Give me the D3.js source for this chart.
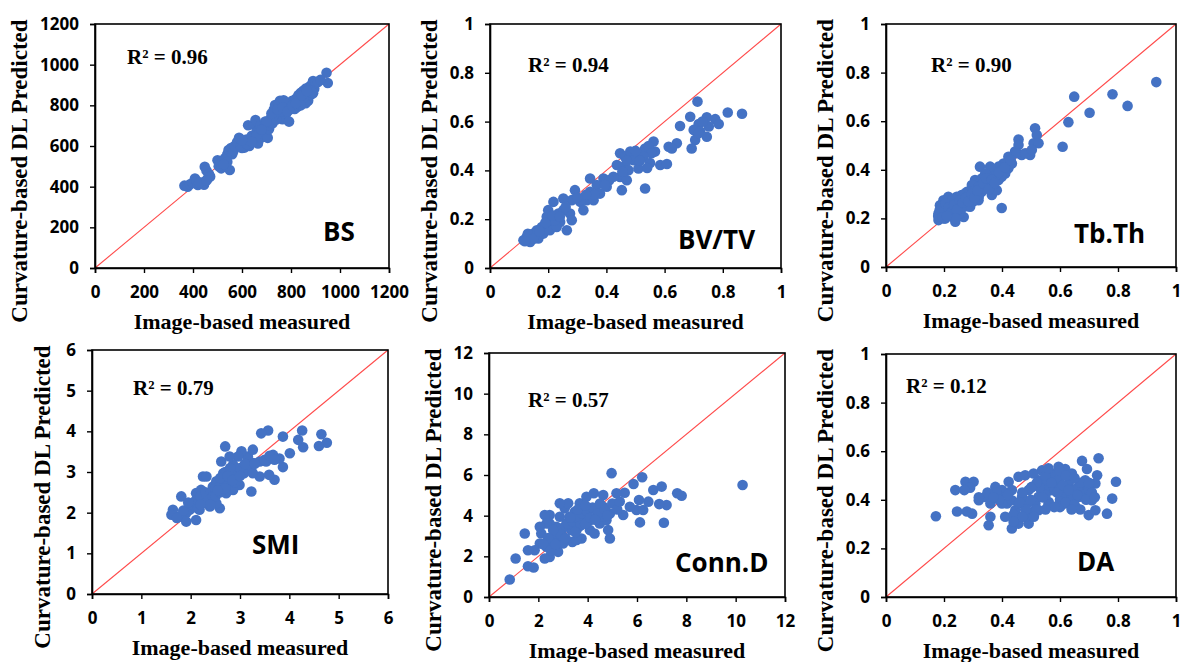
<!DOCTYPE html>
<html>
<head>
<meta charset="utf-8">
<script src="https://cdn.jsdelivr.net/npm/d3@7"></script>
<style>
  body { margin: 0; background: #fff; }
  svg { display: block; }
</style>
</head>
<body>
<svg id="chart" width="1181" height="662"></svg>
<script>
// Measured vs predicted values, one [measured, predicted] pair per specimen.
const bsPoints = [
  [365,405],[378,400],[388,412],[398,418],[408,440],[415,428],[420,408],[430,415],[440,422],[448,498],[455,480],[460,440],[465,462],[470,450],[445,410],[425,420],[455,430],
  [500,530],[505,500],[515,490],[520,525],[530,540],[540,560],[545,580],[550,482],[555,590],[560,560],[540,522],[525,510],[565,575],
  [570,600],[580,620],[588,640],[595,600],[600,612],[610,592],[618,632],[625,702],[630,600],[636,620],[640,650],[648,705],[650,640],[655,728],[660,670],[665,612],[670,682],[675,700],[680,642],[690,662],[695,720],[700,700],[705,640],[710,682],[715,702],[600,590],[620,610],[660,650],
  [720,742],[725,712],[730,780],[735,802],[740,762],[745,750],[750,790],[755,822],[760,800],[765,732],[770,810],[775,770],[780,760],[785,800],[792,720],[795,780],[800,790],[805,822],[810,800],[815,782],[740,730],[760,770],[730,750],[750,810],[770,825],
  [820,832],[825,792],[830,850],[835,822],[840,862],[845,812],[850,872],[855,842],[860,882],[865,832],[870,862],[875,892],[880,852],[885,902],[890,920],[895,882],[900,912],[870,822],[860,810],[880,872],[850,835],[840,800],[890,860],
  [945,960],[950,910],[910,915],[920,925],
  [700,720],[720,760],[745,780],[765,790],[785,770],[805,800],[820,810],[845,850],[865,870],[640,620],[680,680],[600,630]
];
const bvtvPoints = [
  [0.713,0.682],[0.817,0.637],[0.866,0.632],[0.688,0.620],[0.653,0.582],[0.717,0.590],[0.745,0.618],[0.774,0.610],[0.786,0.590],[0.752,0.580],[0.700,0.566],[0.722,0.559],[0.745,0.538],[0.705,0.525],[0.693,0.490],[0.717,0.552],[0.730,0.600],
  [0.614,0.497],[0.642,0.511],[0.625,0.490],
  [0.562,0.518],[0.533,0.490],[0.567,0.477],[0.585,0.422],[0.608,0.426],[0.545,0.500],[0.555,0.470],
  [0.533,0.326],
  [0.447,0.470],[0.464,0.456],[0.482,0.477],[0.505,0.470],[0.528,0.456],[0.493,0.442],[0.459,0.415],[0.476,0.401],[0.510,0.408],[0.550,0.430],[0.447,0.373],[0.424,0.374],[0.453,0.319],[0.470,0.360],[0.436,0.422],[0.515,0.440],[0.500,0.480],[0.470,0.440],[0.540,0.410],[0.455,0.395],
  [0.344,0.367],[0.390,0.367],[0.401,0.333],[0.367,0.340],[0.344,0.312],[0.333,0.278],[0.310,0.271],[0.292,0.319],[0.356,0.278],[0.378,0.305],[0.321,0.237],[0.281,0.278],[0.410,0.360],[0.360,0.300],[0.330,0.300],[0.300,0.290],[0.395,0.340],
  [0.218,0.271],[0.252,0.285],[0.235,0.223],[0.264,0.155],[0.195,0.210],[0.206,0.182],[0.241,0.189],[0.178,0.168],[0.161,0.155],[0.149,0.141],[0.126,0.127],[0.115,0.114],[0.138,0.107],[0.166,0.121],[0.183,0.141],[0.206,0.155],[0.229,0.168],[0.200,0.237],[0.275,0.223],[0.252,0.237],[0.281,0.196],[0.224,0.196],[0.130,0.140],[0.150,0.120],[0.190,0.185],[0.215,0.215],[0.260,0.250],[0.240,0.210],[0.170,0.150],[0.120,0.110]
];
const tbthPoints = [
  [0.932,0.761],[0.781,0.711],[0.833,0.663],[0.649,0.701],[0.702,0.635],[0.629,0.596],[0.609,0.495],[0.399,0.243],
  [0.457,0.525],[0.457,0.502],[0.514,0.571],[0.520,0.543],[0.509,0.509],[0.526,0.509],[0.497,0.461],[0.468,0.461],[0.445,0.475],[0.422,0.454],[0.405,0.426],[0.388,0.413],[0.371,0.392],[0.359,0.413],[0.324,0.413],[0.342,0.385],[0.307,0.358],[0.296,0.337],[0.324,0.330],[0.353,0.330],[0.388,0.358],[0.411,0.385],
  [0.279,0.309],[0.261,0.296],[0.244,0.289],[0.227,0.275],[0.209,0.261],[0.192,0.241],[0.181,0.220],[0.181,0.193],[0.204,0.200],[0.227,0.213],[0.239,0.186],[0.268,0.206],[0.290,0.248],[0.250,0.248],[0.319,0.275],[0.365,0.296],[0.382,0.316],[0.215,0.289],[0.198,0.275],[0.296,0.275],[0.273,0.275],[0.186,0.254],[0.204,0.227],[0.256,0.220],
  [0.330,0.364],[0.347,0.344],[0.371,0.358],[0.399,0.399],[0.422,0.406],[0.434,0.426],[0.451,0.468],[0.480,0.468],[0.503,0.482],[0.399,0.371],
  [0.190,0.220],[0.200,0.245],[0.210,0.230],[0.220,0.260],[0.230,0.240],[0.240,0.270],[0.250,0.260],[0.260,0.280],[0.270,0.300],[0.280,0.290],[0.300,0.310],[0.310,0.300],[0.320,0.330],[0.340,0.330],[0.350,0.350],[0.360,0.340],[0.370,0.370],[0.380,0.380],[0.200,0.200],[0.220,0.210],[0.250,0.220],[0.280,0.250],[0.300,0.270],[0.330,0.310],[0.180,0.210],[0.190,0.250],[0.230,0.280],[0.260,0.240],[0.290,0.280],[0.320,0.290],
  [0.185,0.235],[0.195,0.205],[0.205,0.260],[0.215,0.245],[0.225,0.225],[0.235,0.255],[0.245,0.235],[0.255,0.275],[0.265,0.265],[0.275,0.285],[0.285,0.270],[0.295,0.300],[0.305,0.285],[0.315,0.315],[0.335,0.345],[0.345,0.365],[0.355,0.320],[0.365,0.360],[0.375,0.345],[0.390,0.390],[0.410,0.410],[0.430,0.440],[0.240,0.200],[0.210,0.210]
];
const smiPoints = [
  [4.76,3.72],[4.65,3.93],[4.60,3.64],[4.28,3.61],[4.26,4.02],[4.18,3.79],[4.01,3.46],[3.87,3.87],[3.57,4.02],[3.43,3.95],[3.87,3.12],[3.70,2.81],[3.40,2.89],[3.59,2.93],[3.80,3.33],[3.67,3.42],[3.53,3.26],[3.40,3.26],[3.26,3.22],[3.16,3.38],[3.26,3.55],[3.03,3.51],[3.20,3.05],[3.23,2.52],[2.96,3.38],[2.86,3.18],[2.79,3.05],[2.70,3.63],[2.62,3.26],[2.66,2.97],[2.89,2.89],[2.99,2.68],[2.79,2.73],[2.72,2.48],[2.59,2.64],[2.49,2.48],[2.25,2.89],[2.32,2.89],[2.45,2.32],[2.59,2.11],[2.32,2.23],[2.18,2.32],[2.11,2.48],[2.21,2.56],[2.05,2.23],[1.98,2.07],[1.81,2.40],[1.91,1.99],[1.78,1.91],[1.64,2.07],[1.61,1.95],[1.72,1.87],[1.91,1.78],[2.11,1.82],[2.18,2.07],[2.39,2.15],[2.52,2.23],[2.45,2.64],[2.86,2.56],[3.08,2.97],[3.26,2.97],[2.79,3.38],[2.52,2.77],[2.28,2.36],
  [2.00,2.20],[2.10,2.30],[2.20,2.40],[2.30,2.50],[2.40,2.50],[2.50,2.60],[2.60,2.70],[2.70,2.80],[2.80,2.90],[2.90,3.00],[3.00,3.10],[2.70,3.00],[2.60,2.85],[2.80,3.10],[2.90,2.75],[3.10,3.20],[3.30,3.20],[3.50,3.30],[3.60,3.40],[3.70,3.30],[2.35,2.30],[2.45,2.40],[2.15,2.10],[1.85,2.05],[1.95,2.25],
  [2.50,2.40],[2.60,2.50],[2.70,2.60],[2.75,2.90],[2.85,2.80],[3.00,2.90],[2.55,2.55],[2.40,2.20],[2.20,2.20]
];
const connPoints = [
  [10.28,5.51],[4.97,6.09],[6.21,5.89],[5.86,5.56],[6.66,5.26],[7.00,5.43],[7.63,5.10],[7.81,4.98],[7.20,4.52],[6.90,4.57],[7.09,3.65],[6.12,3.67],[6.46,4.69],[6.08,4.77],[5.98,4.28],[6.25,4.28],[5.44,4.03],[5.71,4.44],[5.50,5.13],[5.17,5.10],[4.25,5.10],[4.63,5.02],[4.83,3.29],[4.90,2.88],[4.63,4.44],[4.90,4.11],[4.36,4.28],[4.09,3.78],[3.95,4.44],[3.68,4.61],[3.48,4.19],[3.82,3.95],[3.55,3.29],[3.75,2.88],[3.38,2.71],[3.07,4.36],[2.87,3.95],[3.14,3.62],[2.73,3.45],[2.46,3.62],[2.46,4.03],[2.26,4.03],[2.33,3.62],[2.12,3.12],[2.06,2.63],[2.33,2.47],[2.46,1.97],[2.26,1.89],[2.80,2.22],[3.00,2.63],[2.60,2.80],[1.85,2.30],[1.58,2.30],[1.45,3.12],[1.08,1.89],[1.58,1.51],[1.81,1.45],[0.84,0.86],[3.34,3.29],[4.09,3.29],[4.49,3.62],[4.76,3.78],[4.28,3.12],[3.55,2.80],[2.94,3.12],[3.27,3.95],[2.73,2.96],[3.95,4.93],[4.63,3.95],[3.21,4.61],[2.06,3.45],[2.87,4.61],
  [3.00,3.40],[3.20,3.60],[3.40,3.70],[3.60,3.90],[3.80,4.10],[4.00,4.20],[4.20,4.40],[4.40,4.10],[3.70,3.50],[3.50,3.20],[3.90,3.60],[4.10,3.90],[4.30,3.80],[2.90,3.10],[2.60,3.30],[2.40,2.90],[2.20,2.60],[2.50,2.30],[2.70,2.60],[3.10,2.90],[4.50,4.60],[4.70,4.30],[5.00,4.60],[5.20,4.30],[5.30,4.70],[3.30,3.90],[3.60,4.30],[3.90,4.50],[4.80,4.00]
];
const daPoints = [
  [0.172,0.332],[0.239,0.440],[0.274,0.474],[0.302,0.474],[0.245,0.352],[0.279,0.352],[0.297,0.343],[0.320,0.398],[0.343,0.412],[0.360,0.385],[0.354,0.295],[0.360,0.330],[0.377,0.453],[0.400,0.440],[0.389,0.412],[0.423,0.474],[0.434,0.440],[0.417,0.385],[0.411,0.330],[0.434,0.282],[0.457,0.302],[0.446,0.357],[0.457,0.495],[0.480,0.501],[0.492,0.440],[0.486,0.385],[0.503,0.350],[0.492,0.302],[0.526,0.412],[0.526,0.480],[0.538,0.521],[0.561,0.501],[0.595,0.536],[0.584,0.480],[0.572,0.440],[0.561,0.391],[0.595,0.378],[0.618,0.527],[0.630,0.467],[0.641,0.440],[0.653,0.371],[0.664,0.453],[0.676,0.560],[0.693,0.527],[0.687,0.480],[0.699,0.412],[0.699,0.337],[0.722,0.357],[0.728,0.501],[0.722,0.467],[0.733,0.571],[0.762,0.343],[0.780,0.405],[0.793,0.474],[0.664,0.412],[0.630,0.412],[0.607,0.453],[0.549,0.453],[0.515,0.385],[0.469,0.412],[0.434,0.398],[0.526,0.357],[0.457,0.330],[0.480,0.330],[0.618,0.385],[0.641,0.508],[0.595,0.467],[0.682,0.440],[0.710,0.398],[0.572,0.508],[0.543,0.480],[0.509,0.508],[0.400,0.385],[0.457,0.385],[0.503,0.453],
  [0.550,0.420],[0.580,0.450],[0.600,0.400],[0.620,0.430],[0.640,0.410],[0.660,0.450],[0.680,0.420],[0.700,0.440],[0.530,0.450],[0.500,0.400],[0.480,0.360],[0.460,0.390],[0.440,0.340],[0.520,0.360],[0.560,0.380],[0.600,0.370],[0.620,0.390],[0.650,0.380],[0.580,0.500],[0.600,0.490],[0.550,0.500],[0.520,0.470],[0.670,0.470],[0.700,0.470],[0.420,0.420],[0.380,0.430],[0.350,0.430],[0.320,0.410],[0.290,0.450],[0.270,0.440],
  [0.470,0.430],[0.500,0.450],[0.540,0.410],[0.570,0.470],[0.590,0.430],[0.610,0.460],[0.630,0.440],[0.660,0.420],[0.690,0.400],[0.710,0.430],[0.720,0.410],[0.670,0.360],[0.640,0.360],[0.580,0.370],[0.550,0.360],[0.510,0.330],[0.470,0.330],[0.440,0.310],[0.390,0.400],[0.370,0.410],[0.600,0.520],[0.560,0.530],[0.620,0.500],[0.650,0.490]
];

// Panel names, R² values and axis tick values
const panelNames = ["BS", "BV/TV", "Tb.Th", "SMI", "Conn.D", "DA"];
const r2Values = ["0.96", "0.94", "0.90", "0.79", "0.57", "0.12"];
const bsTicks = [0, 200, 400, 600, 800, 1000, 1200];
const fractionTicks = [0, 0.2, 0.4, 0.6, 0.8, 1];
const smiTicks = [0, 1, 2, 3, 4, 5, 6];
const connTicks = [0, 2, 4, 6, 8, 10, 12];

const xTitle = "Image-based measured";
const yTitle = "Curvature-based DL Predicted";

// Panel geometry: plot box [left, right, top, bottom] and label offsets
const layout = [
  { box: [95, 389, 24, 268],   r2Pos: [32, 40], namePos: [228, -27], yTitleDx: -68 },
  { box: [490, 781, 24, 268],  r2Pos: [38, 48], namePos: [188, -19], yTitleDx: -53 },
  { box: [886, 1176, 24, 267], r2Pos: [45, 48], namePos: [188, -24], yTitleDx: -53 },
  { box: [92, 388, 350, 594],  r2Pos: [41, 45], namePos: [160, -40], yTitleDx: -42 },
  { box: [489, 785, 353, 597], r2Pos: [39, 54], namePos: [186, -25], yTitleDx: -48 },
  { box: [886, 1176, 354, 597], r2Pos: [20, 39], namePos: [191, -26], yTitleDx: -53 }
];

const panels = [
  { points: bsPoints, ticks: bsTicks },
  { points: bvtvPoints, ticks: fractionTicks },
  { points: tbthPoints, ticks: fractionTicks },
  { points: smiPoints, ticks: smiTicks },
  { points: connPoints, ticks: connTicks },
  { points: daPoints, ticks: fractionTicks }
].map((p, i) => ({ ...p, ...layout[i], name: panelNames[i], r2: r2Values[i] }));

const svg = d3.select("#chart");
const dotColor = "#4472C4";
const lineColor = "#ff4a4a";
const tickFont = "'Open Sans', 'DejaVu Sans', sans-serif";
const serifFont = "'Liberation Serif', 'Times New Roman', serif";

panels.forEach(p => {
  const [x0, x1, y0, y1] = p.box;
  const max = p.ticks[p.ticks.length - 1];
  const x = d3.scaleLinear().domain([0, max]).range([x0, x1]);
  const y = d3.scaleLinear().domain([0, max]).range([y1, y0]);
  const g = svg.append("g");

  // identity line
  g.append("line")
    .attr("x1", x(0)).attr("y1", y(0))
    .attr("x2", x(max)).attr("y2", y(max))
    .attr("stroke", lineColor).attr("stroke-width", 1.1);

  // points
  g.append("g").selectAll("circle").data(p.points).join("circle")
    .attr("cx", d => x(d[0])).attr("cy", d => y(d[1]))
    .attr("r", 5.3).attr("fill", dotColor);

  // plot frame
  g.append("rect")
    .attr("x", x0).attr("y", y0)
    .attr("width", x1 - x0).attr("height", y1 - y0)
    .attr("fill", "none").attr("stroke", "#000").attr("stroke-width", 1.6);

  const fmt = d3.format("~g");
  const xAxis = g.append("g").attr("transform", `translate(0,${y1})`)
    .call(d3.axisBottom(x).tickValues(p.ticks).tickFormat(fmt).tickSize(5).tickPadding(13));
  const yAxis = g.append("g").attr("transform", `translate(${x0},0)`)
    .call(d3.axisLeft(y).tickValues(p.ticks).tickFormat(fmt).tickSize(5).tickPadding(11));
  [xAxis, yAxis].forEach(a => {
    a.select(".domain").attr("stroke", "#000").attr("stroke-width", 1.6);
    a.selectAll(".tick line").attr("stroke", "#000").attr("stroke-width", 1.4);
    a.selectAll(".tick text")
      .attr("fill", "#000")
      .style("font-family", tickFont)
      .style("font-weight", "700")
      .style("font-size", "17px");
  });

  // R² annotation
  g.append("text")
    .attr("x", x0 + p.r2Pos[0]).attr("y", y0 + p.r2Pos[1])
    .style("font-family", serifFont).style("font-weight", "700").style("font-size", "21px")
    .text(`R² = ${p.r2}`);

  // panel name
  g.append("text")
    .attr("x", x0 + p.namePos[0]).attr("y", y1 + p.namePos[1])
    .style("font-family", tickFont).style("font-weight", "700").style("font-size", "26px")
    .text(p.name);

  // axis titles
  g.append("text")
    .attr("x", (x0 + x1) / 2).attr("y", y1 + 61)
    .attr("text-anchor", "middle")
    .style("font-family", serifFont).style("font-weight", "700").style("font-size", "22px")
    .text(xTitle);

  const cy = (y0 + y1) / 2 + 25;
  g.append("text")
    .attr("transform", `translate(${x0 + p.yTitleDx},${cy}) rotate(-90)`)
    .attr("text-anchor", "middle")
    .style("font-family", serifFont).style("font-weight", "700").style("font-size", "23px")
    .text(yTitle);
});
</script>
</body>
</html>
